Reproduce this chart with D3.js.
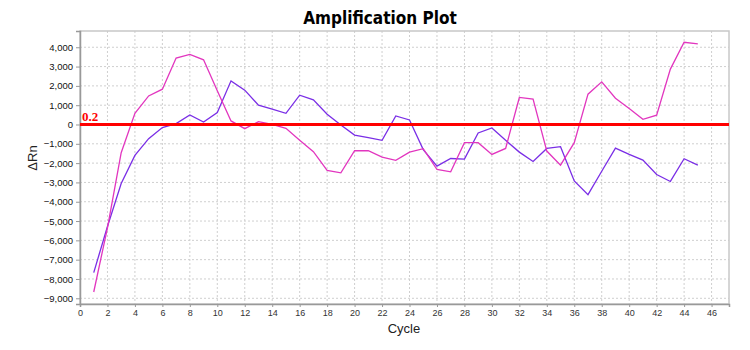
<!DOCTYPE html>
<html>
<head>
<meta charset="utf-8">
<script src="https://cdn.jsdelivr.net/npm/d3@7"></script>
<style>
  html, body { margin: 0; padding: 0; background: #fff; }
  svg { display: block; }
</style>
</head>
<body>
<svg id="chart" width="750" height="350"></svg>
<script>
// Cycle numbers and the two ΔRn traces
const cycles = d3.range(1, 46);
const traceViolet = [
  -7670, -5280, -3060, -1600, -735, -160, 45, 495, 130, 620,
  2260, 1780, 1000, 790, 580, 1520, 1275, 530, -30, -545,
  -685, -820, 445, 235, -1300, -2155, -1760, -1790, -440, -180,
  -820, -1430, -1915, -1240, -1150, -2920, -3630, -2420, -1220, -1550,
  -1845, -2590, -2950, -1775, -2105
];
const traceMagenta = [
  -8675, -5350, -1460, 580, 1480, 1830, 3440, 3630, 3350, 1750,
  185, -215, 150, 10, -200, -820, -1410, -2380, -2500, -1360,
  -1360, -1690, -1860, -1430, -1255, -2330, -2450, -940, -940, -1550,
  -1240, 1400, 1310, -1375, -2105, -940, 1570, 2210, 1360, 825,
  270, 480, 2870, 4260, 4170
];
const xTicks = d3.range(0, 47, 2);
const yTicks = d3.range(-9000, 4001, 1000);
const threshold = 0;
const thresholdLabel = "0.2";

const svg = d3.select("#chart");
const plotLeft = 80, plotRight = 729, plotTop = 31, plotBottom = 304;

const x = d3.scaleLinear().domain([0, 47.27]).range([plotLeft, plotRight]);
const y = d3.scaleLinear().domain([-9296, 4842]).range([plotBottom, plotTop]);

// Title
svg.append("text")
  .attr("x", 380).attr("y", 24)
  .attr("text-anchor", "middle")
  .attr("font-family", "'DejaVu Sans Condensed', 'DejaVu Sans', sans-serif")
  .attr("font-weight", "bold")
  .attr("font-size", 17)
  .attr("fill", "#000")
  .text("Amplification Plot");

// Grid
const grid = svg.append("g");
grid.selectAll("line.v").data(xTicks.filter(d => d > 0)).join("line")
  .attr("class", "v")
  .attr("x1", d => x(d)).attr("x2", d => x(d))
  .attr("y1", plotTop).attr("y2", plotBottom)
  .attr("stroke", "#cfcfcf").attr("stroke-width", 1)
  .attr("stroke-dasharray", "2,2");
grid.selectAll("line.h").data(yTicks).join("line")
  .attr("class", "h")
  .attr("x1", plotLeft).attr("x2", plotRight)
  .attr("y1", d => y(d)).attr("y2", d => y(d))
  .attr("stroke", "#cfcfcf").attr("stroke-width", 1)
  .attr("stroke-dasharray", "2,2");

// Frame
svg.append("rect")
  .attr("x", plotLeft).attr("y", plotTop)
  .attr("width", plotRight - plotLeft).attr("height", plotBottom - plotTop)
  .attr("fill", "none").attr("stroke", "#c8c8c8").attr("stroke-width", 1.5);

// Axes
const xAxis = d3.axisBottom(x).tickValues(xTicks).tickSize(3).tickPadding(3);
const yAxis = d3.axisLeft(y).tickValues(yTicks).tickSize(4).tickPadding(3)
  .tickFormat(d3.format(","));

const gx = svg.append("g").attr("transform", `translate(0,${plotBottom})`).call(xAxis);
gx.select(".domain").attr("stroke", "#999").attr("stroke-width", 1.5);
gx.selectAll(".tick line").attr("stroke", "#999");
gx.selectAll("text")
  .attr("font-family", "'Liberation Sans', Arial, sans-serif")
  .attr("font-size", 9).attr("fill", "#333");

const gy = svg.append("g").attr("transform", `translate(${plotLeft},0)`).call(yAxis);
gy.select(".domain").attr("stroke", "#999").attr("stroke-width", 1.5);
gy.selectAll(".tick line").attr("stroke", "#999");
gy.selectAll("text")
  .attr("font-family", "'Liberation Sans', Arial, sans-serif")
  .attr("font-size", 9.5).attr("fill", "#111");

// Axis titles
svg.append("text")
  .attr("x", 404).attr("y", 333)
  .attr("text-anchor", "middle")
  .attr("font-family", "'Liberation Sans', Arial, sans-serif")
  .attr("font-size", 13).attr("fill", "#222")
  .text("Cycle");
svg.append("text")
  .attr("transform", "translate(37,158) rotate(-90)")
  .attr("text-anchor", "middle")
  .attr("font-family", "'Liberation Sans', Arial, sans-serif")
  .attr("font-size", 13).attr("fill", "#222")
  .text("ΔRn");

// Traces
const line = d3.line().x((d, i) => x(cycles[i])).y(d => y(d));
svg.append("path").datum(traceViolet)
  .attr("d", line).attr("fill", "none")
  .attr("stroke", "#7a2ee6").attr("stroke-width", 1.3);
svg.append("path").datum(traceMagenta)
  .attr("d", line).attr("fill", "none")
  .attr("stroke", "#e236bf").attr("stroke-width", 1.3);

// Threshold line and label
svg.append("line")
  .attr("x1", plotLeft).attr("x2", plotRight)
  .attr("y1", y(threshold)).attr("y2", y(threshold))
  .attr("stroke", "#ff0000").attr("stroke-width", 3);
svg.append("text")
  .attr("x", 82).attr("y", y(threshold) - 3)
  .attr("font-family", "'Liberation Serif', 'DejaVu Serif', serif")
  .attr("font-weight", "bold")
  .attr("font-size", 13).attr("fill", "#ff0000")
  .text(thresholdLabel);
</script>
</body>
</html>
